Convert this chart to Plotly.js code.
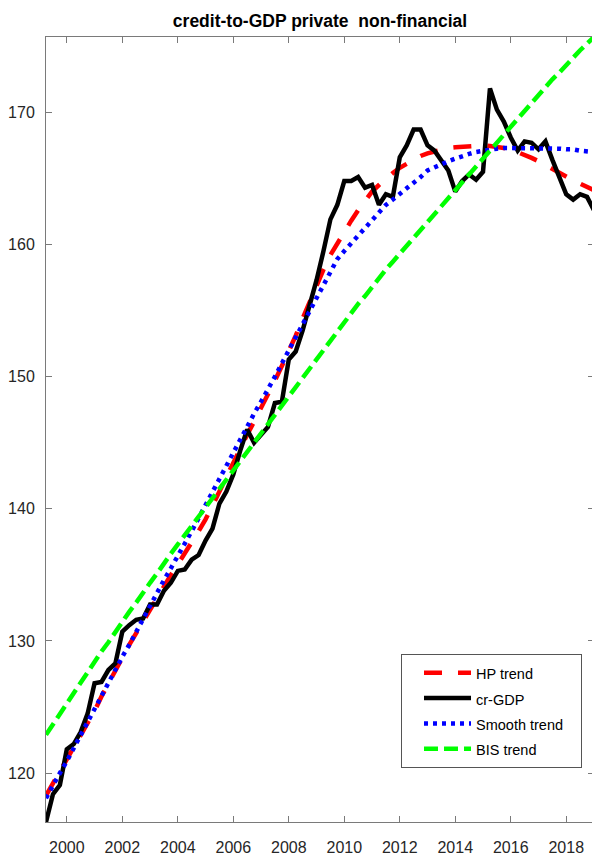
<!DOCTYPE html>
<html>
<head>
<meta charset="utf-8">
<script src="https://cdn.plot.ly/plotly-3.0.1.min.js"></script>
<style>
html,body{margin:0;padding:0;background:#fff;overflow:hidden;}
#chart{width:600px;height:858px;}
</style>
</head>
<body>
<div id="chart"></div>
<script>
// Quarterly time (decimal years)
const years = [
1999.25,1999.5,1999.75,
2000.0,2000.25,2000.5,2000.75,
2001.0,2001.25,2001.5,2001.75,
2002.0,2002.25,2002.5,2002.75,
2003.0,2003.25,2003.5,2003.75,
2004.0,2004.25,2004.5,2004.75,
2005.0,2005.25,2005.5,2005.75,
2006.0,2006.25,2006.5,2006.75,
2007.0,2007.25,2007.5,2007.75,
2008.0,2008.25,2008.5,2008.75,
2009.0,2009.25,2009.5,2009.75,
2010.0,2010.25,2010.5,2010.75,
2011.0,2011.25,2011.5,2011.75,
2012.0,2012.25,2012.5,2012.75,
2013.0,2013.25,2013.5,2013.75,
2014.0,2014.25,2014.5,2014.75,
2015.0,2015.25,2015.5,2015.75,
2016.0,2016.25,2016.5,2016.75,
2017.0,2017.25,2017.5,2017.75,
2018.0,2018.25,2018.5,2018.75,
2019.0];

const hpTrend = [
118.3,119.2,120.1,
121.0,122.0,122.9,123.8,
124.7,125.8,126.8,127.8,
128.7,129.7,130.6,131.5,
132.4,133.3,134.1,135.0,
135.8,136.6,137.4,138.3,
139.2,140.2,141.3,142.4,
143.5,144.6,145.6,146.6,
147.6,148.6,149.7,150.8,
151.9,153.1,154.4,155.7,
156.9,158.1,159.2,160.1,
161.0,161.8,162.6,163.3,
164.0,164.5,165.0,165.4,
165.8,166.1,166.4,166.7,
166.9,167.05,167.2,167.3,
167.35,167.4,167.45,167.5,
167.5,167.45,167.4,167.3,
167.2,167.0,166.8,166.55,
166.3,166.0,165.7,165.4,
165.1,164.85,164.6,164.35,
164.1];

const crGDP = [
116.3,118.4,119.1,
121.8,122.2,123.1,124.5,
126.8,126.9,127.8,128.3,
130.7,131.2,131.6,131.7,
132.75,132.75,133.8,134.4,
135.3,135.4,136.15,136.5,
137.6,138.5,140.4,141.3,
142.6,144.4,146.0,145.0,
145.6,146.2,148.0,148.1,
151.3,151.9,153.5,155.3,
157.3,159.5,161.9,163.0,
164.8,164.8,165.1,164.3,
164.5,163.0,163.8,163.6,
166.6,167.5,168.7,168.7,
167.5,167.1,166.4,165.6,
164.0,164.8,165.3,164.9,
165.5,171.8,170.2,169.3,
168.1,167.1,167.8,167.7,
167.2,167.8,166.4,165.0,
163.8,163.4,163.8,163.6,
162.6];

const smoothTrend = [
118.1,119.1,120.0,
120.9,121.9,122.9,123.9,
124.9,125.9,126.9,127.9,
128.8,129.7,130.7,131.6,
132.6,133.6,134.6,135.5,
136.4,137.3,138.3,139.3,
140.3,141.2,142.2,143.2,
144.2,145.2,146.2,147.2,
148.1,149.0,150.0,151.0,
152.0,152.9,153.9,154.9,
155.9,156.9,157.9,158.9,
159.5,160.1,160.7,161.3,
161.9,162.5,163.0,163.4,
163.8,164.2,164.6,165.1,
165.6,165.85,166.1,166.3,
166.5,166.7,166.85,167.0,
167.1,167.2,167.25,167.3,
167.3,167.3,167.3,167.3,
167.3,167.3,167.3,167.25,
167.2,167.2,167.1,167.05,
167.0];

const bisTrend = [
122.9,123.7,124.5,
125.3,126.0,126.8,127.6,
128.4,129.2,129.9,130.7,
131.4,132.2,132.9,133.7,
134.4,135.1,135.9,136.6,
137.3,138.0,138.8,139.5,
140.2,140.9,141.6,142.3,
143.0,143.7,144.4,145.1,
145.8,146.5,147.2,147.9,
148.6,149.3,150.0,150.7,
151.4,152.1,152.8,153.5,
154.2,154.8,155.5,156.1,
156.8,157.4,158.1,158.7,
159.3,159.9,160.6,161.2,
161.8,162.4,163.0,163.6,
164.2,164.8,165.4,166.0,
166.6,167.2,167.8,168.4,
169.0,169.6,170.2,170.8,
171.4,171.9,172.5,173.0,
173.6,174.1,174.7,175.2,
175.7];

const seriesNames = ["HP trend","cr-GDP","Smooth trend","BIS trend"];
const xTickVals = [2000,2002,2004,2006,2008,2010,2012,2014,2016,2018];
const xTickText = ["2000","2002","2004","2006","2008","2010","2012","2014","2016","2018"];
const yTickVals = [120,130,140,150,160,170];
const yTickText = ["120","130","140","150","160","170"];
const chartTitle = "credit-to-GDP private  non-financial";

const sans = '"Liberation Sans", Arial, sans-serif';
const axisCol = '#7a7a7a';

// legend label: smaller visible text inside a taller legend row; a little trailing space widens the box
function legendLabel(name, pad) {
  return '<span style="font-size:14.5px">' + name + '&nbsp;'.repeat(pad) + '</span>';
}

const traces = [
  {x: years, y: hpTrend, name: legendLabel(seriesNames[0], 0), mode: 'lines',
   line: {color: '#ff0000', width: 4.5, dash: '18px,16px'}},
  {x: years, y: crGDP, name: legendLabel(seriesNames[1], 0), mode: 'lines',
   line: {color: '#000000', width: 4.5}},
  {x: years, y: smoothTrend, name: legendLabel(seriesNames[2], 3), mode: 'lines',
   line: {color: '#0000ff', width: 4.5, dash: '4px,5px'}},
  {x: years, y: bisTrend, name: legendLabel(seriesNames[3], 0), mode: 'lines',
   line: {color: '#00ff00', width: 4.5, dash: '14px,6px'}}
];

const layout = {
  width: 600, height: 858,
  margin: {l: 46, r: 6, t: 37, b: 36, pad: 0},
  paper_bgcolor: '#ffffff', plot_bgcolor: '#ffffff',
  showlegend: true,
  title: {
    text: chartTitle,
    font: {family: sans, size: 17.5, color: '#000000', weight: 'bold'},
    x: 0.5, xref: 'paper', xanchor: 'center',
    y: 1 - 21/858, yref: 'container', yanchor: 'middle'
  },
  xaxis: {
    range: [1999.25, 2019.0],
    tickvals: xTickVals, ticktext: xTickText,
    ticks: 'inside', ticklen: 6, tickwidth: 1, tickcolor: axisCol,
    showline: true, linecolor: axisCol, linewidth: 1, mirror: 'ticks',
    showgrid: false, zeroline: false,
    ticklabelstandoff: 11,
    tickfont: {family: sans, size: 16, color: '#262626'}
  },
  yaxis: {
    range: [116.3, 175.7],
    tickvals: yTickVals, ticktext: yTickText,
    ticks: 'inside', ticklen: 6, tickwidth: 1, tickcolor: axisCol,
    showline: true, linecolor: axisCol, linewidth: 1, mirror: 'ticks',
    showgrid: false, zeroline: false,
    ticklabelstandoff: 7,
    tickfont: {family: sans, size: 16, color: '#262626'}
  },
  legend: {
    x: (401-46)/548, y: (822-654)/785, xanchor: 'left', yanchor: 'top',
    bgcolor: '#ffffff', bordercolor: '#555555', borderwidth: 1,
    font: {family: sans, size: 17.2, color: '#000000'},
    itemwidth: 47, indentation: 17, tracegroupgap: 0
  }
};

Plotly.newPlot('chart', traces, layout, {displayModeBar: false, staticPlot: true});
</script>
</body>
</html>
